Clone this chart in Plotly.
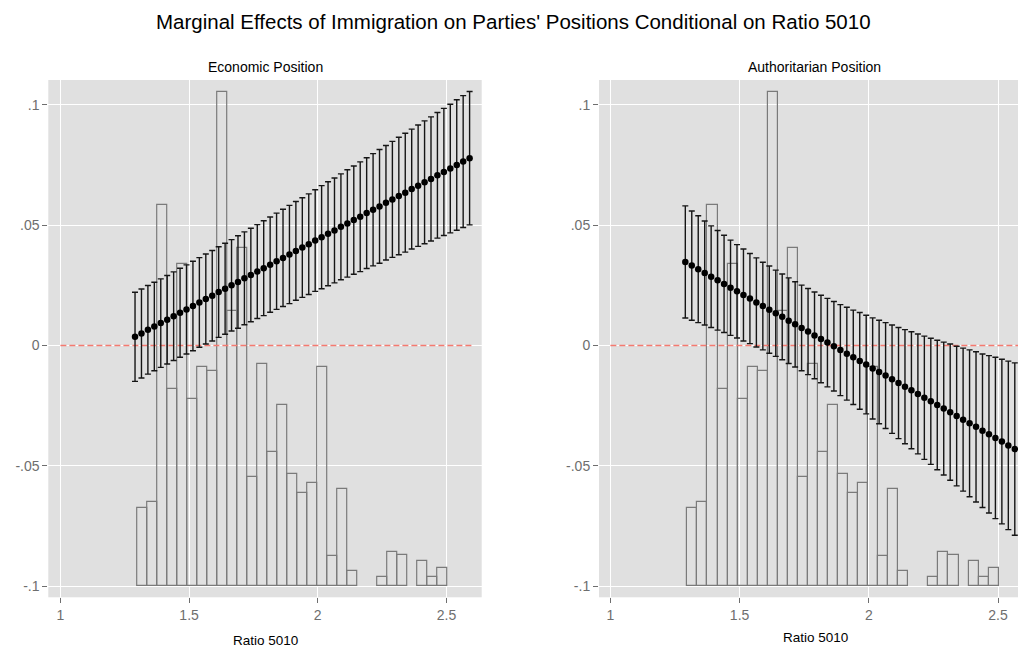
import plotly.graph_objects as go

# ---------------- data ----------------
ratio_grid = [1.290, 1.315, 1.340, 1.365, 1.390, 1.415, 1.440, 1.465, 1.490, 1.515,
              1.540, 1.565, 1.590, 1.615, 1.640, 1.665, 1.690, 1.715, 1.740, 1.765,
              1.790, 1.815, 1.840, 1.865, 1.890, 1.915, 1.940, 1.965, 1.990, 2.015,
              2.040, 2.065, 2.090, 2.115, 2.140, 2.165, 2.190, 2.215, 2.240, 2.265,
              2.290, 2.315, 2.340, 2.365, 2.390, 2.415, 2.440, 2.465, 2.490, 2.515,
              2.540, 2.565, 2.590]

econ_effect = [0.0036, 0.0050, 0.0065, 0.0079, 0.0093, 0.0107, 0.0122, 0.0136, 0.0150, 0.0164,
               0.0179, 0.0193, 0.0207, 0.0222, 0.0236, 0.0250, 0.0264, 0.0279, 0.0293, 0.0307,
               0.0321, 0.0336, 0.0350, 0.0364, 0.0378, 0.0393, 0.0407, 0.0421, 0.0436, 0.0450,
               0.0464, 0.0478, 0.0493, 0.0507, 0.0521, 0.0535, 0.0550, 0.0564, 0.0578, 0.0593,
               0.0607, 0.0621, 0.0635, 0.0650, 0.0664, 0.0678, 0.0692, 0.0707, 0.0721, 0.0735,
               0.0750, 0.0764, 0.0778]

econ_ci95 = [0.0185, 0.0185, 0.0184, 0.0184, 0.0184, 0.0184, 0.0184, 0.0185, 0.0185, 0.0186,
             0.0186, 0.0187, 0.0188, 0.0188, 0.0189, 0.0190, 0.0192, 0.0193, 0.0194, 0.0195,
             0.0197, 0.0198, 0.0200, 0.0202, 0.0204, 0.0205, 0.0207, 0.0209, 0.0211, 0.0214,
             0.0216, 0.0218, 0.0220, 0.0223, 0.0225, 0.0228, 0.0230, 0.0233, 0.0236, 0.0238,
             0.0241, 0.0244, 0.0247, 0.0249, 0.0252, 0.0255, 0.0258, 0.0261, 0.0264, 0.0267,
             0.0271, 0.0274, 0.0277]

auth_effect = [0.0347, 0.0332, 0.0317, 0.0301, 0.0286, 0.0271, 0.0256, 0.0240, 0.0225, 0.0210,
               0.0195, 0.0179, 0.0164, 0.0149, 0.0134, 0.0119, 0.0103, 0.0088, 0.0073, 0.0058,
               0.0042, 0.0027, 0.0012, -0.0003, -0.0019, -0.0034, -0.0049, -0.0064, -0.0079, -0.0095,
               -0.0110, -0.0125, -0.0140, -0.0156, -0.0171, -0.0186, -0.0201, -0.0217, -0.0232, -0.0247,
               -0.0262, -0.0277, -0.0293, -0.0308, -0.0323, -0.0338, -0.0354, -0.0369, -0.0384, -0.0399,
               -0.0415, -0.0430, -0.0445]

auth_ci95 = [0.0233, 0.0227, 0.0222, 0.0216, 0.0211, 0.0207, 0.0202, 0.0198, 0.0194, 0.0191,
             0.0187, 0.0185, 0.0182, 0.0181, 0.0179, 0.0178, 0.0178, 0.0177, 0.0178, 0.0179,
             0.0180, 0.0182, 0.0184, 0.0186, 0.0189, 0.0193, 0.0196, 0.0201, 0.0205, 0.0210,
             0.0215, 0.0220, 0.0225, 0.0231, 0.0237, 0.0243, 0.0249, 0.0256, 0.0262, 0.0269,
             0.0276, 0.0283, 0.0290, 0.0297, 0.0305, 0.0312, 0.0319, 0.0327, 0.0335, 0.0342,
             0.0350, 0.0358, 0.0366]

# histogram of Ratio 5010 (scaled heights above the -0.1 baseline)
hist_bin_start = 1.298
hist_bin_width = 0.03886
hist_base = -0.1
hist_heights = [0.0324, 0.0349, 0.1585, 0.0818, 0.1338, 0.0779, 0.0909, 0.0895, 0.2055, 0.1143,
                0.1405, 0.0455, 0.0922, 0.0558, 0.0753, 0.0467, 0.0389, 0.0427, 0.0909, 0.0127,
                0.0402, 0.0063, None, None, 0.0037, 0.0142, 0.0130, None, 0.0104, 0.0039,
                0.0077]

ref_line_x = [1.0, 2.6]
ref_line_y = [0.0, 0.0]

y_tickvals = [-0.1, -0.05, 0, 0.05, 0.1]
y_ticktext = ['-.1', '-.05', '0', '.05', '.1']
x_tickvals = [1, 1.5, 2, 2.5]
x_ticktext = ['1', '1.5', '2', '2.5']

main_title = "Marginal Effects of Immigration on Parties' Positions Conditional on Ratio 5010"
panel_titles = ["Economic Position", "Authoritarian Position"]
x_title = "Ratio 5010"

# ---------------- figure ----------------
W, H = 1026, 652
OFF = 8  # page body margin offset (screen px -> figure px)
FONT = "Liberation Sans, Arial, Helvetica, sans-serif"
BG = "#E0E0E0"
TICK_GREY = "#6E6E6E"

bin_centers = [hist_bin_start + hist_bin_width * (i + 0.5) for i in range(len(hist_heights))]

fig = go.Figure()
panels = [(econ_effect, econ_ci95), (auth_effect, auth_ci95)]
for k, (est, ci) in enumerate(panels):
    xa = 'x' if k == 0 else 'x2'
    ya = 'y' if k == 0 else 'y2'
    fig.add_trace(go.Bar(
        x=bin_centers, y=hist_heights, base=hist_base, width=hist_bin_width,
        marker=dict(color='rgba(0,0,0,0)', line=dict(color='#7A7A7A', width=1.2)),
        xaxis=xa, yaxis=ya, showlegend=False, hoverinfo='skip'))
    fig.add_trace(go.Scatter(
        x=ref_line_x, y=ref_line_y, mode='lines',
        line=dict(color='#F47A70', width=1.3, dash='6px,3px'),
        xaxis=xa, yaxis=ya, showlegend=False, hoverinfo='skip'))
    fig.add_trace(go.Scatter(
        x=ratio_grid, y=est, mode='markers',
        marker=dict(color='black', size=6.5),
        error_y=dict(type='data', array=ci, symmetric=True, color='#151515',
                     thickness=1.4, width=3),
        xaxis=xa, yaxis=ya, showlegend=False))

def px_x(p):
    return (p - OFF) / W

def px_y(p):
    return 1 - (p - OFF) / H

ydom = [px_y(597.3), px_y(80)]
axis_common = dict(
    showgrid=True, gridcolor='white', gridwidth=1, zeroline=False,
    ticks='outside', ticklen=5, tickwidth=1, tickcolor=TICK_GREY,
    tickfont=dict(family=FONT, size=14, color=TICK_GREY),
    showline=False, fixedrange=True,
)

fig.update_layout(
    width=W, height=H,
    margin=dict(l=0, r=0, t=0, b=0),
    paper_bgcolor='white', plot_bgcolor=BG,
    font=dict(family=FONT),
    bargap=0,
    xaxis=dict(domain=[px_x(48.3), px_x(481.7)], range=[0.953, 2.637],
               tickvals=x_tickvals, ticktext=x_ticktext, anchor='y', **axis_common),
    yaxis=dict(domain=ydom, range=[-0.1046, 0.1103],
               tickvals=y_tickvals, ticktext=y_ticktext, anchor='x', **axis_common),
    xaxis2=dict(domain=[px_x(599), px_x(1033.4)], range=[0.956, 2.637],
                tickvals=x_tickvals, ticktext=x_ticktext, anchor='y2', **axis_common),
    yaxis2=dict(domain=ydom, range=[-0.1046, 0.1103],
                tickvals=y_tickvals, ticktext=y_ticktext, anchor='x2', **axis_common),
)

annotations = [
    dict(text=main_title, x=px_x(513), y=px_y(22), xref='paper', yref='paper',
         showarrow=False, xanchor='center', yanchor='middle',
         font=dict(family=FONT, size=20.5, color='black')),
    dict(text=panel_titles[0], x=px_x(265), y=px_y(67), xref='paper', yref='paper',
         showarrow=False, xanchor='center', yanchor='middle',
         font=dict(family=FONT, size=14, color='black')),
    dict(text=panel_titles[1], x=px_x(814), y=px_y(67), xref='paper', yref='paper',
         showarrow=False, xanchor='center', yanchor='middle',
         font=dict(family=FONT, size=14, color='black')),
    dict(text=x_title, x=px_x(265), y=px_y(640), xref='paper', yref='paper',
         showarrow=False, xanchor='center', yanchor='middle',
         font=dict(family=FONT, size=13.5, color='black')),
    dict(text=x_title, x=px_x(815), y=px_y(637), xref='paper', yref='paper',
         showarrow=False, xanchor='center', yanchor='middle',
         font=dict(family=FONT, size=13.5, color='black')),
]
fig.update_layout(annotations=annotations)

fig.write_html("out.html")
